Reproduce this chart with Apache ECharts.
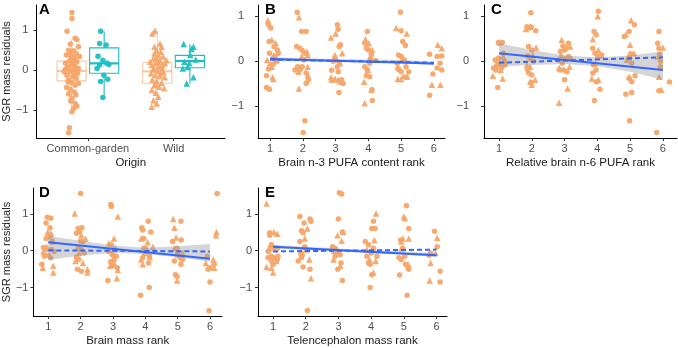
<!DOCTYPE html>
<html>
<head>
<meta charset="utf-8">
<script src="https://cdn.jsdelivr.net/npm/echarts@6/dist/echarts.min.js"></script>
<style>
html, body { margin: 0; padding: 0; background: #fff; }
#main { width: 678px; height: 348px; }
</style>
</head>
<body>
<div id="main"></div>
<script>
// ---- data ----
var originLabels = ['Common-garden', 'Wild'];
var rankTicks = [1, 2, 3, 4, 5, 6];

// panel A: jittered points [x, residual]
var aGardenOrange = [[0.814,1.45],[0.814,1.30],[0.757,0.98],[0.852,0.80],[0.871,0.77],[0.795,0.66],[0.890,0.59],[0.776,0.50],[0.833,0.49],[0.864,0.42],[0.750,0.38],[0.814,0.34],[0.845,0.29],[0.788,0.23],[0.871,0.21],[0.738,0.17],[0.814,0.15],[0.852,0.10],[0.776,0.08],[0.890,0.04],[0.738,0.02],[0.833,0.00],[0.795,-0.04],[0.879,-0.08],[0.757,-0.13],[0.826,-0.17],[0.864,-0.21],[0.776,-0.25],[0.814,-0.32],[0.852,-0.38],[0.750,-0.44],[0.795,-0.49],[0.841,-0.55],[0.776,-0.60],[0.814,-0.71],[0.852,-0.84],[0.871,-0.91],[0.833,-0.97],[0.814,-1.05],[0.784,-1.45],[0.776,-1.58],[0.902,0.34],[0.727,-0.04],[0.890,-0.34],[0.757,0.04],[0.841,0.21],[0.80,0.27],[0.86,0.05],[0.77,-0.30],[0.84,-0.10],[0.82,0.12],[0.79,0.40],[0.86,-0.62],[0.80,-0.78]];
var aGardenTeal = [[1.149,0.98],[1.137,0.67],[1.213,0.63],[1.118,0.35],[1.175,0.25],[1.225,0.17],[1.137,0.13],[1.244,0.14],[1.187,-0.13],[1.232,-0.23],[1.149,-0.29],[1.175,-0.69],[1.107,0.04]];
var aWildOrange = [[1.784,0.99],[1.753,0.92],[1.841,0.67],[1.860,0.59],[1.802,0.50],[1.776,0.42],[1.822,0.38],[1.879,0.34],[1.764,0.29],[1.841,0.25],[1.791,0.18],[1.898,0.17],[1.745,0.13],[1.822,0.10],[1.860,0.06],[1.764,0.02],[1.814,-0.02],[1.879,-0.04],[1.738,-0.08],[1.784,-0.13],[1.841,-0.15],[1.898,-0.18],[1.753,-0.24],[1.802,-0.27],[1.860,-0.32],[1.776,-0.38],[1.829,-0.42],[1.890,-0.46],[1.745,-0.50],[1.791,-0.57],[1.822,-0.67],[1.764,-0.76],[1.802,-0.84],[1.745,-0.92],[1.917,0.25],[1.726,0.21],[1.852,0.46],[1.776,0.59],[1.80,0.30],[1.85,-0.08],[1.77,0.05],[1.83,0.20],[1.79,-0.35],[1.87,0.12]];
var aWildTeal = [[2.118,0.66],[2.209,0.53],[2.232,0.59],[2.194,0.38],[2.126,0.21],[2.183,0.17],[2.259,0.27],[2.164,0.08],[2.107,0.04],[2.232,-0.18],[2.152,-0.34]];
// boxes: [x, lower whisker, q1, median, q3, upper whisker]
var aBoxes = [[0.81,-0.92,-0.27,-0.02,0.23,0.78],[1.19,-0.70,-0.08,0.17,0.56,0.98],[1.81,-0.94,-0.33,-0.03,0.19,0.97],[2.19,-0.34,0.06,0.23,0.37,0.65]];

// panel B
var bCircles = [[0.95,0.80],[1.02,0.73],[0.97,0.43],[1.22,0.24],[0.98,0.17],[1.15,0.10],[1.20,-0.01],[1.10,-0.07],[0.95,-0.18],[0.89,-0.33],[0.89,-0.59],[0.98,-0.63],[1.12,0.32],[1.25,0.17],[1.08,0.06],
  [1.83,1.08],[1.96,0.65],[2.10,0.65],[1.81,0.32],[1.91,0.28],[1.98,0.23],[2.06,0.17],[1.84,-0.13],[1.91,-0.20],[1.98,-0.13],[2.10,-0.27],[2.17,-0.42],[2.10,-0.50],[2.06,-1.33],[2.01,-1.59],[2.03,0.02],[1.76,-0.20],
  [3.05,0.80],[3.08,0.70],[3.15,0.36],[3.11,0.32],[2.98,0.06],[2.93,-0.01],[3.11,-0.03],[3.05,-0.13],[3.08,-0.24],[3.18,-0.42],[3.10,-0.70],[2.88,-0.21],[3.23,-0.50],
  [3.97,0.65],[3.89,0.39],[4.01,0.24],[3.94,0.28],[4.09,0.13],[4.04,-0.05],[4.06,0.04],[3.89,-0.13],[3.97,-0.20],[4.04,-0.35],[4.11,-0.64],[4.12,-0.88],[3.94,-0.33],[4.22,0.01],
  [4.98,1.08],[5.00,0.67],[5.05,0.43],[5.13,0.34],[4.92,0.13],[5.00,0.10],[5.10,0.02],[4.88,-0.05],[4.93,-0.19],[5.00,-0.24],[5.15,-0.13],[5.23,-0.24],[5.10,-0.35],
  [5.87,0.15],[5.97,-0.29],[5.87,-0.76],[6.10,0.10],[6.24,0.11],[6.10,-0.16],[6.24,-0.20],[6.19,-0.05]];
var bTriangles = [[0.93,0.90],[1.05,0.47],[1.17,0.39],[1.11,0.13],[0.91,0.02],[1.05,-0.13],[1.07,-0.36],[1.10,-0.40],[1.20,0.02],[1.00,-0.05],
  [1.88,0.97],[2.12,0.21],[2.15,0.13],[1.86,-0.24],[1.88,-0.61],[2.15,-0.13],[1.96,0.10],[2.15,-0.31],
  [2.86,0.52],[3.00,0.61],[3.13,-0.05],[2.98,0.13],[3.20,0.17],[2.86,-0.36],[2.98,-0.39],[3.08,-0.42],[3.16,-0.46],[2.88,-0.42],
  [3.91,0.48],[4.01,0.39],[4.12,0.24],[4.06,0.06],[3.87,-0.46],[4.09,-0.64],[3.89,-0.94],[3.99,-0.20],
  [4.85,0.73],[5.17,0.61],[5.05,0.06],[4.90,-0.40],[5.00,-0.40],[5.19,-0.35],[4.90,-0.13],
  [5.94,-0.53],[6.12,0.36],[6.24,0.28],[6.20,-0.53]];
var bSolid = [[1, 0.04], [6, -0.06]];
var bDashed = [[1, 0.03], [6, -0.04]];
var bBandLo = [0.00, -0.01, -0.02, -0.03, -0.04, -0.10];
var bBandHi = [0.08, 0.06, 0.04, 0.03, 0.02, -0.02];

// panel C
var cCircles = [[0.98,0.41],[1.10,0.41],[0.88,0.02],[0.83,-0.16],[0.93,-0.13],[0.98,0.06],[1.03,-0.05],[1.08,-0.16],[1.13,0.17],[1.16,-0.01],[0.96,-0.59],[0.90,-0.20],[1.18,-0.09],
  [1.97,1.07],[1.85,0.76],[1.93,0.73],[1.98,0.75],[2.12,0.67],[1.90,0.32],[2.00,0.24],[1.87,0.11],[1.95,0.04],[2.05,-0.01],[1.90,-0.27],[2.00,-0.31],[1.98,-0.48],[1.87,-0.19],
  [2.95,0.33],[3.05,0.28],[3.12,0.39],[2.87,0.21],[3.00,0.24],[3.12,0.10],[2.81,0.02],[2.93,-0.05],[3.07,0.04],[3.17,0.06],[2.97,-0.20],[3.07,-0.24],[3.00,-0.42],[2.86,-0.20],
  [4.03,1.10],[3.90,0.65],[3.96,0.58],[3.86,0.28],[3.93,0.17],[4.01,0.10],[3.88,-0.09],[3.96,-0.20],[3.86,-0.27],[4.08,-0.63],[3.91,-0.88],[3.97,-0.46],[4.13,0.13],
  [5.13,0.80],[4.97,0.65],[4.82,0.54],[5.02,0.16],[4.98,0.06],[5.05,-0.05],[4.97,-0.39],[5.05,-0.46],[4.87,-0.74],[4.98,-1.33],[5.05,-0.70],[5.15,-0.33],
  [5.88,0.65],[5.84,0.39],[5.88,0.28],[5.90,0.15],[5.93,-0.01],[5.88,-0.66],[5.81,-1.59],[6.20,-0.47],[5.92,-0.13]];
var cTriangles = [[1.01,0.41],[0.81,-0.33],[1.11,-0.39],[1.13,0.10],[0.93,-0.05],[1.05,-0.20],
  [1.82,0.71],[1.95,0.76],[2.13,0.30],[2.03,0.13],[1.95,-0.46],[2.00,-0.53],[2.10,-0.42],[1.95,-0.13],[1.85,-0.09],
  [2.91,0.47],[3.17,0.32],[2.89,0.13],[2.83,-0.16],[3.15,-0.13],[3.09,-0.61],[2.83,-0.93],[3.00,0.06],
  [4.01,0.99],[3.86,0.48],[4.03,0.24],[4.13,0.12],[3.83,-0.39],[4.03,-0.42],[3.93,-0.05],
  [5.03,0.90],[4.87,0.59],[5.00,0.36],[5.12,0.17],[4.94,0.10],[4.97,-0.35],[4.90,0.02],
  [6.00,0.30],[5.88,-0.35],[5.95,-0.64],[5.86,0.10]];
var cSolid = [[1, 0.17], [6, -0.20]];
var cDashed = [[1, -0.04], [6, 0.08]];
var cBandLo = [-0.13, -0.09, -0.07, -0.12, -0.24, -0.42];
var cBandHi = [0.39, 0.24, 0.12, 0.08, 0.12, 0.21];

// panel D
var dCircles = [[0.97,0.91],[1.08,0.88],[0.93,0.75],[1.05,0.62],[1.00,0.38],[1.08,0.42],[0.93,0.33],[1.12,0.26],[0.85,0.09],[0.95,0.03],[0.88,-0.15],[1.00,-0.12],[1.07,-0.19],[0.80,-0.37],[1.10,0.03],[1.18,-0.02],
  [2.00,1.55],[1.92,0.60],[2.04,0.62],[1.97,0.51],[1.87,0.47],[2.07,0.25],[2.00,0.26],[1.92,0.07],[2.02,0.03],[1.87,-0.18],[1.94,-0.24],[1.90,-0.50],[2.02,-0.56],[2.11,-0.06],
  [2.93,1.25],[2.95,1.20],[2.95,0.16],[3.05,0.03],[2.86,-0.02],[3.00,-0.12],[3.10,-0.15],[2.93,-0.30],[2.97,-0.41],[2.84,-0.81],[3.13,-0.46],[3.03,-0.26],
  [4.09,0.80],[3.89,0.62],[3.92,0.56],[4.17,0.51],[3.95,0.33],[4.00,0.07],[4.05,-0.02],[4.13,-0.15],[3.92,-0.19],[4.10,-0.33],[3.85,-1.21],[4.12,-1.00],[3.95,0.07],
  [5.10,0.80],[4.84,0.25],[4.98,0.07],[5.11,0.29],[5.00,-0.06],[5.07,-0.19],[4.90,-0.28],[5.10,-0.37],[4.93,-0.65],[4.98,-0.70],[5.15,-0.24],
  [6.22,1.55],[6.00,-0.46],[5.94,-0.50],[6.00,-0.85],[5.97,-1.63],[6.13,-0.37],[5.92,-0.15]];
var dTriangles = [[0.98,0.51],[1.07,0.47],[1.12,0.25],[0.85,-0.02],[1.15,-0.41],[1.15,-0.59],[0.83,-0.46],[0.95,0.11],
  [1.82,1.01],[2.02,0.42],[2.15,0.33],[2.07,-0.33],[2.21,-0.50],[2.21,-0.59],[1.84,-0.28],[1.95,-0.06],
  [3.15,0.93],[3.03,0.33],[2.87,0.20],[3.08,0.07],[2.97,-0.06],[3.15,-0.52],[3.12,-0.75],[2.91,-0.41],[3.05,-0.37],
  [3.87,0.33],[4.07,0.23],[4.23,0.11],[3.87,-0.24],[3.92,-0.37],[4.14,-0.18],[3.97,-0.06],
  [4.86,0.86],[4.90,0.62],[4.95,0.36],[4.90,0.07],[5.00,-0.10],[4.98,-0.81],[5.15,-0.06],
  [6.20,0.51],[6.18,0.42],[6.10,-0.24],[5.87,-0.33],[6.13,-0.46]];
var dSolid = [[1, 0.23], [6, -0.22]];
var dDashed = [[1, 0.01], [6, -0.02]];
var dBandLo = [-0.25, -0.13, -0.06, -0.09, -0.18, -0.30];
var dBandHi = [0.40, 0.27, 0.14, 0.08, 0.12, 0.18];

// panel E
var eCircles = [[0.90,0.49],[0.90,0.42],[0.85,-0.02],[0.95,0.16],[1.03,0.07],[1.13,0.07],[0.85,-0.19],[0.95,-0.15],[1.05,-0.19],[1.13,-0.24],[1.00,-0.37],[1.15,-0.15],[0.95,-0.28],
  [1.82,0.93],[2.13,0.86],[2.16,0.80],[1.95,0.75],[1.87,0.54],[1.92,0.49],[1.82,0.25],[1.97,0.11],[2.02,0.03],[1.77,-0.28],[1.87,-0.19],[1.92,-0.44],[2.13,-0.50],[2.05,-1.62],[1.85,-0.09],
  [3.03,1.57],[3.10,1.54],[3.00,0.86],[3.12,0.51],[2.82,0.11],[2.90,0.07],[2.98,-0.06],[3.05,-0.11],[2.90,-0.15],[3.08,-0.33],[2.98,-0.50],[3.12,-0.81],[2.85,-0.02],
  [4.07,0.80],[4.02,0.60],[4.12,0.60],[3.82,0.25],[3.92,0.16],[4.07,0.07],[4.00,-0.06],[3.87,-0.15],[3.97,-0.37],[4.02,-0.65],[3.97,-1.00],[4.18,-0.15],[3.92,-0.33],
  [5.08,1.22],[4.90,0.29],[5.15,0.60],[4.97,0.07],[4.85,-0.19],[5.03,-0.15],[4.92,-0.24],[5.05,-0.37],[5.13,-0.46],[4.87,-0.66],[5.10,-1.21],[5.15,-0.50],
  [5.94,0.53],[6.02,0.11],[5.77,-0.12],[6.11,-0.56],[6.11,-0.85],[5.82,-0.06]];
var eTriangles = [[0.80,1.28],[1.03,0.51],[1.13,0.46],[0.80,-0.44],[0.95,-0.46],[1.00,-0.59],[1.10,-0.28],[0.88,0.07],[0.93,0.16],
  [2.05,0.60],[1.97,0.33],[2.11,-0.24],[2.16,-0.75],[1.90,-0.06],[2.02,0.03],
  [2.97,0.42],[3.10,0.27],[2.85,-0.24],[3.05,-0.41],[3.15,0.51],[2.92,0.03],
  [4.15,1.01],[4.10,0.29],[3.87,0.03],[4.07,-0.59],[4.14,-0.28],[3.95,-0.24],
  [5.00,0.93],[5.03,0.88],[4.97,0.33],[5.15,0.33],[4.93,0.07],[5.13,-0.37],[4.92,0.25],
  [6.02,0.35],[5.97,-0.06],[5.82,-0.33],[5.79,-0.81]];
var eSolid = [[1, 0.11], [6, -0.12]];
var eDashed = [[1, -0.02], [6, 0.03]];
var eBandLo = [0.06, 0.02, -0.02, -0.07, -0.11, -0.17];
var eBandHi = [0.16, 0.11, 0.06, 0.02, -0.02, -0.07];

// ---- styling ----
var F = 'Liberation Sans, Arial, sans-serif';
var ORANGE = '#F6A568';
var TEAL = '#1DBEC2';
var BLUE = '#3366FF';
var boxColors = ['rgba(246,165,104,0.6)', TEAL, 'rgba(246,165,104,0.6)', TEAL];

function fmtNum(v) { return v < 0 ? '\u2212' + Math.abs(v) : String(v); }

var grids = [
  { left: 32, top: 5, width: 193, height: 133 },
  { left: 258, top: 5, width: 187, height: 133 },
  { left: 484, top: 5, width: 193, height: 133 },
  { left: 32, top: 188, width: 190, height: 132 },
  { left: 258, top: 188, width: 189, height: 132 }
];
var xRanges = [[0.4, 2.6], [0.63, 6.34], [0.54, 6.43], [0.54, 6.37], [0.54, 6.32]];
var yRanges = [[-1.71, 1.64], [-1.71, 1.24], [-1.71, 1.24], [-1.77, 1.7], [-1.77, 1.7]];
var yMargins = [8, 14, 15, 5, 6];
var xNames = ['Origin', 'Brain n-3 PUFA content rank', 'Relative brain n-6 PUFA rank', 'Brain mass rank', 'Telencephalon mass rank'];
var letters = ['A', 'B', 'C', 'D', 'E'];

var xAxes = [], yAxes = [], titles = [];
grids.forEach(function (g, i) {
  var isA = i === 0;
  var ticks = isA ? [1, 2] : rankTicks;
  xAxes.push({
    type: 'value', gridIndex: i, min: xRanges[i][0], max: xRanges[i][1],
    name: xNames[i], nameLocation: 'middle', nameGap: 19,
    nameTextStyle: { fontFamily: F, fontSize: 11.5, color: '#1a1a1a' },
    axisLine: { show: true, onZero: false, lineStyle: { color: '#000', width: 1 } },
    axisTick: { show: true, customValues: ticks, length: 3, lineStyle: { color: '#333' } },
    axisLabel: {
      customValues: ticks, margin: 5, fontFamily: F, fontSize: 11, color: '#4d4d4d',
      formatter: function (v) { return isA ? originLabels[Math.round(v) - 1] : String(v); }
    },
    splitLine: { show: false }
  });
  yAxes.push({
    type: 'value', gridIndex: i, min: yRanges[i][0], max: yRanges[i][1],
    name: (i === 0 || i === 3) ? 'SGR mass residuals' : '',
    nameLocation: 'middle', nameGap: 17, nameRotate: 90,
    nameTextStyle: { fontFamily: F, fontSize: 11, color: '#1a1a1a' },
    axisLine: { show: true, onZero: false, lineStyle: { color: '#000', width: 1 } },
    axisTick: { show: true, customValues: [-1, 0, 1], length: 3, lineStyle: { color: '#333' } },
    axisLabel: { customValues: [-1, 0, 1], margin: yMargins[i], fontFamily: F, fontSize: 11, color: '#4d4d4d', formatter: fmtNum },
    splitLine: { show: false }
  });
  titles.push({
    text: letters[i], left: g.left + 7, top: g.top - 3, padding: 0,
    textStyle: { fontFamily: F, fontSize: 15, fontWeight: 'bold', color: '#000' }
  });
});

function pts(idx, data, symbol, color, size) {
  return {
    type: 'scatter', xAxisIndex: idx, yAxisIndex: idx, data: data, symbol: symbol,
    symbolSize: size, itemStyle: { color: color, opacity: 0.95 }, z: 2, silent: true
  };
}

function fitLine(idx, data, dashed) {
  return {
    type: 'line', xAxisIndex: idx, yAxisIndex: idx, data: data, symbol: 'none', z: 5, silent: true,
    lineStyle: { color: BLUE, width: 2, type: dashed ? [5, 3] : 'solid' }
  };
}

function band(idx, lo, hi) {
  return {
    type: 'custom', xAxisIndex: idx, yAxisIndex: idx, z: 4, silent: true,
    data: [[rankTicks[0], lo[0]]],
    renderItem: function (params, api) {
      var p = [];
      for (var k = 0; k < rankTicks.length; k++) p.push(api.coord([rankTicks[k], hi[k]]));
      for (var j = rankTicks.length - 1; j >= 0; j--) p.push(api.coord([rankTicks[j], lo[j]]));
      return { type: 'polygon', shape: { points: p }, style: { fill: 'rgba(150,150,150,0.4)' } };
    }
  };
}

var boxSeries = {
  type: 'custom', xAxisIndex: 0, yAxisIndex: 0, z: 1, silent: true,
  data: aBoxes,
  encode: { x: 0, y: [1, 2, 3, 4, 5] },
  renderItem: function (params, api) {
    var x = api.value(0), half = 0.17;
    var col = boxColors[params.dataIndex];
    var lw = api.coord([x, api.value(1)]);
    var q1 = api.value(2), md = api.value(3), q3 = api.value(4);
    var up = api.coord([x, api.value(5)]);
    var tl = api.coord([x - half, q3]);
    var br = api.coord([x + half, q1]);
    var ml = api.coord([x - half, md]);
    var mr = api.coord([x + half, md]);
    var s = { stroke: col, lineWidth: 1.1, fill: null };
    return {
      type: 'group',
      children: [
        { type: 'line', shape: { x1: lw[0], y1: lw[1], x2: lw[0], y2: br[1] }, style: s },
        { type: 'line', shape: { x1: up[0], y1: up[1], x2: up[0], y2: tl[1] }, style: s },
        { type: 'rect', shape: { x: tl[0], y: tl[1], width: br[0] - tl[0], height: br[1] - tl[1] }, style: { stroke: col, lineWidth: 1.1, fill: 'rgba(255,255,255,0)' } },
        { type: 'line', shape: { x1: ml[0], y1: ml[1], x2: mr[0], y2: mr[1] }, style: { stroke: col, lineWidth: 2.2 } }
      ]
    };
  }
};

var series = [
  boxSeries,
  pts(0, aGardenOrange, 'circle', ORANGE, 5.5),
  pts(0, aGardenTeal, 'circle', TEAL, 5.5),
  pts(0, aWildOrange, 'triangle', ORANGE, 6.5),
  pts(0, aWildTeal, 'triangle', TEAL, 6.5),

  pts(1, bCircles, 'circle', ORANGE, 5.5), pts(1, bTriangles, 'triangle', ORANGE, 6.5),
  band(1, bBandLo, bBandHi), fitLine(1, bSolid, false), fitLine(1, bDashed, true),

  pts(2, cCircles, 'circle', ORANGE, 5.5), pts(2, cTriangles, 'triangle', ORANGE, 6.5),
  band(2, cBandLo, cBandHi), fitLine(2, cSolid, false), fitLine(2, cDashed, true),

  pts(3, dCircles, 'circle', ORANGE, 5.5), pts(3, dTriangles, 'triangle', ORANGE, 6.5),
  band(3, dBandLo, dBandHi), fitLine(3, dSolid, false), fitLine(3, dDashed, true),

  pts(4, eCircles, 'circle', ORANGE, 5.5), pts(4, eTriangles, 'triangle', ORANGE, 6.5),
  band(4, eBandLo, eBandHi), fitLine(4, eSolid, false), fitLine(4, eDashed, true)
];

var chart = echarts.init(document.getElementById('main'), null, { renderer: 'canvas' });
chart.setOption({
  animation: false,
  backgroundColor: '#fff',
  title: titles,
  grid: grids,
  xAxis: xAxes,
  yAxis: yAxes,
  series: series
});
</script>
</body>
</html>
